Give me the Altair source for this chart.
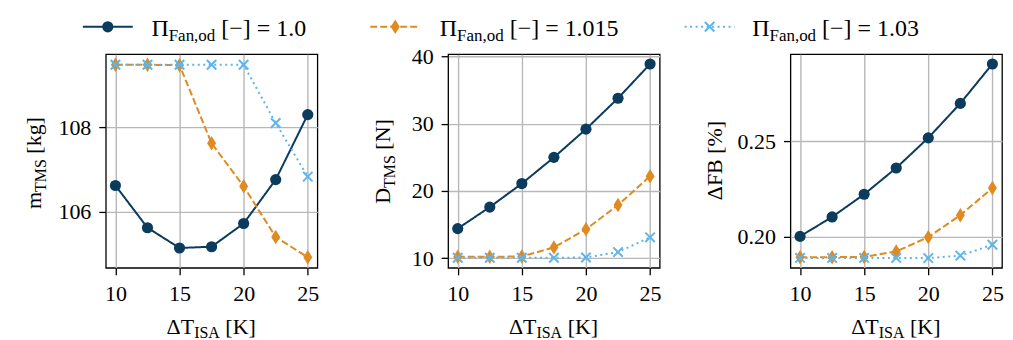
import altair as alt
import pandas as pd

# ---------------- data ----------------
dT = [10, 12.5, 15, 17.5, 20, 22.5, 25]

m_tms_10 = [106.62, 105.62, 105.14, 105.17, 105.72, 106.76, 108.30]
m_tms_1015 = [109.48, 109.48, 109.47, 107.62, 106.60, 105.40, 104.92]
m_tms_103 = [109.48, 109.48, 109.48, 109.48, 109.48, 108.10, 106.83]

d_tms_10 = [14.4, 17.6, 21.1, 25.0, 29.2, 33.8, 38.9]
d_tms_1015 = [10.2, 10.2, 10.25, 11.6, 14.3, 17.9, 22.2]
d_tms_103 = [10.05, 10.05, 10.05, 10.05, 10.1, 10.9, 13.1]

fb_10 = [0.2000, 0.2102, 0.2221, 0.2359, 0.2517, 0.2698, 0.2905]
fb_1015 = [0.1891, 0.1891, 0.1892, 0.1921, 0.1996, 0.2111, 0.2254]
fb_103 = [0.1887, 0.1887, 0.1887, 0.1887, 0.1886, 0.1899, 0.1956]

legend_values = ["1.0", "1.015", "1.03"]
x_ticks = [10, 15, 20, 25]

# ---------------- style ----------------
FONT = "'Liberation Serif', 'Times New Roman', serif"
FS = 22
SUB = 16
LFS = 24
LSUB = 17
COLORS = ["#0b3b5d", "#e08a1f", "#5fb5ea"]
DASHES = [[1, 0], [7, 3], [2, 3.5]]
SHAPES = ["circle", "M0,-1L0.62,0L0,1L-0.62,0Z", "M-1,-1L1,1M-1,1L1,-1"]
SIZES = [125, 210, 90]
FILLED = [True, True, False]
W, H = 212, 214
XDOM = [9.25, 25.75]

ONE = pd.DataFrame({"k": [0]})

AX_COMMON = dict(
    labelFont=FONT, labelFontSize=FS, labelColor="black", domain=False,
    tickColor="black", tickSize=7, tickWidth=1.3,
    grid=True, gridColor="#b8b8b8", gridWidth=1.4, labelFlush=False,
    title=None,
)


def txt(text, x, y, size=FS, align="left", angle=0, dx=0, dy=0):
    return alt.Chart(ONE).mark_text(
        text=text, font=FONT, fontSize=size, align=align, baseline="alphabetic",
        angle=angle, dx=dx, dy=dy, color="black"
    ).encode(x=alt.value(x), y=alt.value(y))


def subscript_title(main, sub, rest, x, y, wsub, angle=0, size=FS, subsize=SUB, drop=5):
    # main right-aligned at junction, subscript left-aligned, rest after subscript
    return [
        txt(main, x, y, size=size, align="right", angle=angle),
        txt(sub, x, y, size=subsize, align="left", angle=angle, dy=drop),
        txt(rest, x, y, size=size, align="left", angle=angle, dx=wsub + size * 0.25),
    ]


def make_panel(series, ydom, yticks, yfmt, extra):
    layers = []
    for i, yv in enumerate(series):
        df = pd.DataFrame({"x": dT, "y": yv})
        base = alt.Chart(df).encode(
            x=alt.X("x:Q", scale=alt.Scale(domain=XDOM, nice=False, zero=False),
                    axis=alt.Axis(values=x_ticks, format="d", labelPadding=9, **AX_COMMON)),
            y=alt.Y("y:Q", scale=alt.Scale(domain=ydom, nice=False, zero=False),
                    axis=alt.Axis(values=yticks, format=yfmt, labelPadding=8, **AX_COMMON)),
        )
        layers.append(base.mark_line(color=COLORS[i], strokeWidth=2,
                                     strokeDash=DASHES[i]))
        layers.append(base.mark_point(shape=SHAPES[i], size=SIZES[i],
                                      filled=FILLED[i], color=COLORS[i],
                                      opacity=1, strokeWidth=2))
    layers += extra
    return alt.layer(*layers).properties(width=W, height=H)


# x-axis title pieces (centered under each plot)
def x_title():
    return subscript_title("ΔT", "ISA", "[K]", 88.5, 280.5, 25.8, drop=4)


# legend (placed above, relative to first panel)
legend_layers = []
leg_y = -27.5
leg_items = [(-23, 45), (265, 334), (580, 647)]
for i, (lx, tx) in enumerate(leg_items):
    legend_layers.append(
        alt.Chart(ONE).mark_rule(color=COLORS[i], strokeWidth=2, strokeDash=DASHES[i])
        .encode(x=alt.value(lx), x2=alt.value(lx + 50), y=alt.value(leg_y))
    )
    legend_layers.append(
        alt.Chart(ONE).mark_point(shape=SHAPES[i], size=SIZES[i], filled=FILLED[i],
                                  color=COLORS[i], opacity=1, strokeWidth=2)
        .encode(x=alt.value(lx + 25), y=alt.value(leg_y))
    )
    legend_layers += subscript_title("Π", "Fan,od", "[−] = " + legend_values[i],
                                     tx + 18, -18.2, LSUB * 2.75,
                                     size=LFS, subsize=LSUB, drop=4.5)

# invisible anchor that fixes the top-left corner
anchor = alt.Chart(ONE).mark_rule(color="#ffffff", strokeWidth=1).encode(
    x=alt.value(-96.5), x2=alt.value(-95.5), y=alt.value(-44))

p1_extra = ([anchor] + legend_layers + x_title()
            + subscript_title("m", "TMS", "[kg]", -65, 138, 32.9, angle=270))
p2_extra = x_title() + subscript_title("D", "TMS", "[N]", -58, 134, 32.9, angle=270)
p3_extra = x_title() + [txt("ΔFB [%]", -69, 106.5, align="center", angle=270)]

p1 = make_panel([m_tms_10, m_tms_1015, m_tms_103], [104.67, 109.73], [106, 108], "d", p1_extra)
p2 = make_panel([d_tms_10, d_tms_1015, d_tms_103], [8.56, 40.35], [10, 20, 30, 40], "d", p2_extra)
p3 = make_panel([fb_10, fb_1015, fb_103], [0.1835, 0.2956], [0.20, 0.25], ".2f", p3_extra)

chart = alt.hconcat(p1, p2, p3, spacing=131, bounds="flush").properties(
    padding={"left": 0, "top": 0, "right": 0, "bottom": 0}
).configure_view(
    stroke="black", strokeWidth=1.3
)

chart.save("out.html", embed_options={"renderer": "svg", "actions": False})
